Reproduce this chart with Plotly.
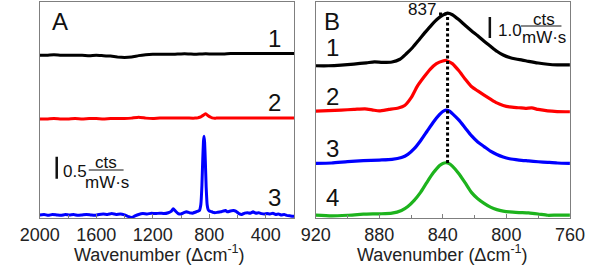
import plotly.graph_objects as go

# ---------------- Panel A data (wavenumber, cts/(mW s), offsets included) ----------------
xa1 = [2000,1950,1900,1850,1800,1750,1700,1650,1600,1550,1500,1450,1400,1350,1300,1250,1200,1150,
       1100,1050,1000,950,900,850,800,750,700,650,600,550,500,450,400,350,300,250,200]
ya1 = [3.70,3.70,3.71,3.70,3.70,3.70,3.70,3.69,3.70,3.69,3.68,3.66,3.65,3.66,3.69,3.71,3.72,3.72,
       3.72,3.72,3.73,3.73,3.72,3.73,3.73,3.73,3.73,3.74,3.74,3.74,3.74,3.74,3.74,3.74,3.74,3.74,3.74]

xa2 = [2000,1950,1900,1850,1800,1750,1700,1650,1600,1550,1500,1450,1400,1350,1300,1250,1200,1150,
       1100,1050,1000,950,900,880,860,840,825,810,790,770,750,700,650,600,550,500,450,400,350,300,250,200]
ya2 = [2.25,2.25,2.26,2.25,2.25,2.26,2.25,2.26,2.26,2.25,2.26,2.26,2.26,2.27,2.29,2.27,2.26,2.27,
       2.27,2.27,2.27,2.27,2.27,2.28,2.30,2.34,2.37,2.33,2.29,2.27,2.27,2.27,2.27,2.27,2.27,2.27,2.27,2.27,2.27,2.27,2.27,2.27]

xa3 = [2000,1970,1940,1910,1880,1850,1820,1790,1760,1730,1700,1670,1640,1610,1580,1550,1520,1490,1460,1430,
       1400,1370,1350,1330,1300,1270,1240,1210,1180,1150,1120,1090,1070,1055,1040,1020,1000,980,960,940,
       920,900,885,870,860,852,846,841,837,833,828,822,815,808,800,790,775,760,740,720,700,685,670,650,
       630,610,590,570,550,530,510,490,470,450,430,410,390,370,350,330,310,290,270,250,230,210,200]
ya3 = [0.07,0.08,0.06,0.08,0.07,0.06,0.08,0.07,0.08,0.06,0.07,0.08,0.07,0.06,0.08,0.09,0.08,0.10,0.08,0.09,
       0.07,0.03,0.01,0.04,0.08,0.10,0.09,0.11,0.10,0.11,0.10,0.12,0.15,0.21,0.16,0.10,0.09,0.12,0.14,0.12,
       0.11,0.13,0.15,0.17,0.30,0.75,1.35,1.75,1.86,1.72,1.30,0.70,0.30,0.19,0.16,0.15,0.13,0.12,0.13,0.14,
       0.16,0.17,0.14,0.16,0.17,0.15,0.10,0.08,0.11,0.12,0.11,0.14,0.11,0.12,0.10,0.09,0.10,0.09,0.11,0.08,
       0.09,0.07,0.08,0.06,0.05,0.04,0.04]

# ---------------- Panel B data ----------------
xb1 = [920,912,904,896,888,883,878,872,867,863,859,855,851,847,843,840,837,834,830,826,822,818,814,810,
       806,802,798,794,790,786,780,774,768,760]
yb1 = [7.25,7.25,7.28,7.33,7.39,7.43,7.41,7.43,7.56,7.82,8.12,8.48,8.85,9.20,9.50,9.66,9.76,9.68,9.45,9.18,
       8.92,8.68,8.42,8.18,7.94,7.76,7.64,7.57,7.52,7.46,7.38,7.32,7.29,7.29]

xb2 = [920,912,904,896,889,884,880,874,868,864,860,856,852,848,844,840,838,834,830,826,822,818,814,810,
       806,802,798,792,788,784,780,774,768,760]
yb2 = [5.09,5.11,5.14,5.17,5.20,5.14,5.10,5.17,5.24,5.36,5.72,6.28,6.70,7.08,7.35,7.48,7.50,7.35,7.02,6.62,
       6.26,6.05,5.85,5.66,5.48,5.36,5.29,5.25,5.22,5.24,5.17,5.10,5.07,5.06]

xb3 = [920,910,900,890,880,872,866,862,858,854,850,846,842,840,838,836,834,830,826,822,818,814,810,806,
       802,798,792,786,780,774,768,760]
yb3 = [2.60,2.62,2.68,2.73,2.76,2.79,2.88,3.03,3.30,3.68,4.12,4.56,4.93,5.07,5.14,5.10,4.97,4.67,4.30,3.92,
       3.62,3.40,3.18,3.02,2.90,2.82,2.76,2.72,2.68,2.65,2.62,2.60]

xb4 = [920,910,900,890,880,872,866,862,858,854,850,846,842,840,838,836,834,830,826,822,818,814,810,806,
       802,798,792,786,780,774,768,760]
yb4 = [0.14,0.10,0.13,0.18,0.20,0.23,0.36,0.55,0.84,1.22,1.70,2.15,2.50,2.60,2.63,2.59,2.47,2.12,1.68,1.22,
       0.92,0.70,0.52,0.40,0.33,0.29,0.26,0.24,0.19,0.13,0.14,0.14]

colors = ["#000000", "#ff0000", "#0000ff", "#1db31d"]
labels_a = ["1", "2", "3"]
labels_b = ["1", "2", "3", "4"]
xticks_a = [2000, 1600, 1200, 800, 400]
xticks_b = [920, 880, 840, 800, 760]
xtitle = "Wavenumber (Δcm<sup>-1</sup>)"
peak_wn = 837

W, H = 600, 265
FONT = "Arial, Liberation Sans, sans-serif"

def px(x):
    return x / W

def py(y):
    return 1 - y / H

fig = go.Figure()
for x, y, c in zip([xa1, xa2, xa3], [ya1, ya2, ya3], colors[:3]):
    fig.add_trace(go.Scatter(x=x, y=y, mode="lines", line=dict(color=c, width=3, shape="spline", smoothing=0.3),
                             xaxis="x", yaxis="y", showlegend=False, hoverinfo="skip"))
for x, y, c in zip([xb1, xb2, xb3, xb4], [yb1, yb2, yb3, yb4], colors):
    fig.add_trace(go.Scatter(x=x, y=y, mode="lines", line=dict(color=c, width=3.2, shape="spline", smoothing=0.6),
                             xaxis="x2", yaxis="y2", showlegend=False, hoverinfo="skip"))

frame = dict(showline=True, linecolor="#7f7f7f", linewidth=1, mirror=True, showgrid=False, zeroline=False)
tickfont = dict(family=FONT, size=18, color="#222")

fig.update_layout(
    width=W, height=H, margin=dict(l=0, r=0, t=0, b=0),
    paper_bgcolor="white", plot_bgcolor="white", showlegend=False,
    xaxis=dict(domain=[21 / W, 291 / W], range=[2000, 200], tickvals=xticks_a, ticks="inside", ticklen=4,
               tickcolor="#7f7f7f", tickfont=tickfont,
               minor=dict(ticks="inside", ticklen=3, dtick=200, tick0=0, tickcolor="#7f7f7f"), **frame),
    yaxis=dict(domain=[py(218), py(2)], range=[0, 216 / 44], showticklabels=False, ticks="", **frame),
    xaxis2=dict(domain=[314 / W, 584 / W], range=[920, 760], tickvals=xticks_b, ticks="inside", ticklen=4,
                tickcolor="#7f7f7f", tickfont=tickfont, anchor="y2",
                minor=dict(ticks="inside", ticklen=3, dtick=20, tick0=0, tickcolor="#7f7f7f"), **frame),
    yaxis2=dict(domain=[py(218), py(2)], range=[0, 216 / 21], showticklabels=False, ticks="", anchor="x2", **frame),
)

ann = []
def txt(t, x, y, size, xanchor="center", color="#111"):
    ann.append(dict(text=t, x=px(x), y=py(y), xref="paper", yref="paper", showarrow=False,
                    xanchor=xanchor, yanchor="middle", font=dict(family=FONT, size=size, color=color)))

big = 24
txt("A", 42, 22, big)
for lab, yy in zip(labels_a, [39, 102, 198]):
    txt(lab, 270, yy, big)
txt("B", 331, 22, big)
for lab, yy in zip(labels_b, [48, 97, 148, 198]):
    txt(lab, 332, yy, big)

# axis titles
txt(xtitle, 148, 253, 18, color="#222")
txt(xtitle, 449, 253, 18, color="#222")

# scale bar A
txt("0.5", 44, 171, 17, "left")
txt("cts", 91.5, 162, 17)
txt("mW·s", 92, 182, 17)
# scale bar B
txt("1.0", 505, 31, 17, "left")
txt("cts", 556, 20, 17)
txt("mW·s", 556, 38, 17)
txt("837", 444, 10, 17, "right")
fig.update_layout(annotations=ann)

shapes = [
    # scale bars (data units)
    dict(type="line", xref="x", yref="y", x0=1880, x1=1880, y0=0.89, y1=1.39, line=dict(color="#111", width=2.5)),
    dict(type="line", xref="x2", yref="y2", x0=810.4, x1=810.4, y0=8.57, y1=9.57, line=dict(color="#111", width=2.5)),
    # fraction lines
    dict(type="line", xref="paper", yref="paper", x0=px(73), x1=px(110), y0=py(170), y1=py(170), line=dict(color="#111", width=1)),
    dict(type="line", xref="paper", yref="paper", x0=px(532), x1=px(575), y0=py(26), y1=py(26), line=dict(color="#111", width=1)),
    # 837 dotted marker
    dict(type="line", xref="x2", yref="y2", x0=peak_wn, x1=peak_wn, y0=(218 - 163) / 21, y1=(218 - 14) / 21,
         line=dict(color="#000", width=3, dash="3px,2.5px")),
    dict(type="line", xref="paper", yref="paper", x0=px(445), x1=px(453), y0=py(14), y1=py(14),
         line=dict(color="#000", width=3, dash="3px,2.5px")),
]
fig.update_layout(shapes=shapes)

fig.write_html("out.html", config={"displayModeBar": False, "staticPlot": True},
               post_script="document.body.style.margin='0px';document.body.style.padding='0px';")
